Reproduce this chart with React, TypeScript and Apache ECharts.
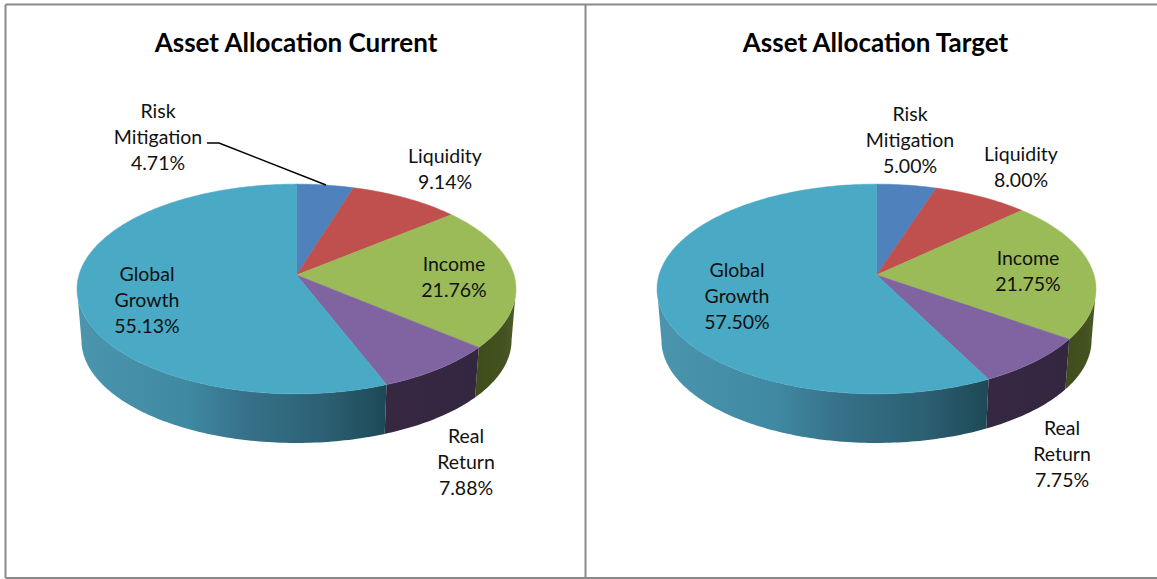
import React, { useEffect, useRef } from "react";
import * as echarts from "echarts";

const categories = ["Risk\nMitigation", "Liquidity", "Income", "Real\nReturn", "Global\nGrowth"];
const currentValues = [4.71, 9.14, 21.76, 7.88, 55.13];
const targetValues = [5.0, 8.0, 21.75, 7.75, 57.5];
const titles = ["Asset Allocation Current", "Asset Allocation Target"];

const topColors = ["#4f81bd", "#c0504d", "#9bbb59", "#8064a2", "#4aa9c4"];
const wallStops: [number, string][][] = [
  [[0, "#3a5f8c"], [1, "#2a4668"]],
  [[0, "#8c3a38"], [1, "#682a28"]],
  [[0, "#3f4c1b"], [0.7, "#435220"], [1, "#4d5d24"]],
  [[0, "#372842"], [1, "#33263f"]],
  [[0, "#4b95ae"], [0.35, "#3f8aa2"], [0.55, "#367189"], [0.8, "#2c6073"], [1, "#1d4956"]],
];

const pieLayouts = [
  {
    cx: 296.5,
    title: [296, 42],
    labels: [[158, 136], [445, 168], [454, 276], [466, 461], [147, 299]],
    leader: [[207, 143], [219, 143], [326, 185]],
  },
  {
    cx: 876.5,
    title: [875.5, 42],
    labels: [[910, 139], [1021, 166], [1028, 270], [1062, 453], [737, 295]],
    leader: null,
  },
];

// Perspective projection of the pie's circular top and bottom faces
const Y_TOP = 275;
const Y_BOTTOM = 326.5;
const WIDTH = 217.5;
const HEIGHT = 103;
const PERSP = 0.1333;
const BOTTOM_SCALE = 0.98;
// Angles at which the projected rim turns from the front of the pie to its back
const RIM_RIGHT = (Math.acos(-PERSP) * 180) / Math.PI;
const RIM_LEFT = 360 - RIM_RIGHT;

function project(cx: number, deg: number, bottom: boolean): number[] {
  const a = (deg * Math.PI) / 180;
  const u = Math.sin(a);
  const v = -Math.cos(a);
  const d = 1 - PERSP * v;
  const s = bottom ? BOTTOM_SCALE : 1;
  return [cx + (s * WIDTH * u) / d, (bottom ? Y_BOTTOM : Y_TOP) + (s * HEIGHT * v) / d];
}

function arc(cx: number, from: number, to: number, bottom: boolean): number[][] {
  const n = Math.max(2, Math.ceil(to - from));
  const pts: number[][] = [];
  for (let i = 0; i <= n; i++) pts.push(project(cx, from + ((to - from) * i) / n, bottom));
  return pts;
}

function sliceAngles(values: number[], idx: number): [number, number] {
  const total = values.reduce((a, b) => a + b, 0);
  const before = values.slice(0, idx).reduce((a, b) => a + b, 0);
  return [(before / total) * 360, ((before + values[idx]) / total) * 360];
}

function pieSeries(values: number[], p: number) {
  const layout = pieLayouts[p];
  const data = values.map((v, i) => ({ name: categories[i], value: [i, v] }));
  const walls = {
    type: "custom",
    coordinateSystem: "none",
    silent: true,
    z: 2,
    data,
    renderItem: (_: any, api: any) => {
      const i = api.value(0) as number;
      const [s, e] = sliceAngles(values, i);
      const a = Math.max(s, RIM_RIGHT);
      const b = Math.min(e, RIM_LEFT);
      if (b <= a) return null;
      const pts = [...arc(layout.cx, a, b, false), ...arc(layout.cx, a, b, true).reverse()];
      const stops = wallStops[i].map(([offset, color]) => ({ offset, color }));
      return {
        type: "polygon",
        shape: { points: pts },
        style: { fill: new echarts.graphic.LinearGradient(0, 0, 1, 0, stops) },
      };
    },
  };
  const tops = {
    type: "custom",
    coordinateSystem: "none",
    silent: true,
    z: 3,
    data,
    renderItem: (_: any, api: any) => {
      const i = api.value(0) as number;
      const [a, b] = sliceAngles(values, i);
      const pts = [[layout.cx, Y_TOP], ...arc(layout.cx, a, b, false)];
      return {
        type: "polygon",
        shape: { points: pts },
        style: { fill: topColors[i], stroke: topColors[i], lineWidth: 0.5 },
      };
    },
  };
  const labels = {
    type: "custom",
    coordinateSystem: "none",
    silent: true,
    z: 5,
    data,
    renderItem: (_: any, api: any) => {
      const i = api.value(0) as number;
      const v = api.value(1) as number;
      const [x, y] = layout.labels[i];
      return {
        type: "text",
        x,
        y,
        style: {
          text: `${categories[i]}\n${v.toFixed(2)}%`,
          x: 0,
          y: 0,
          align: "center",
          verticalAlign: "middle",
          fontFamily: "Lato",
          fontSize: 19.5,
          lineHeight: 26,
          fill: "#111111",
        },
      };
    },
  };
  return [walls, tops, labels];
}

function App() {
  const ref = useRef<HTMLDivElement>(null);
  useEffect(() => {
    const chart = echarts.init(ref.current!, null, { renderer: "svg" });
    const lineStyle = { stroke: "#8a8a8a", lineWidth: 2 };
    const frame = [
      [5.5, 4.5, 1157, 4.5],
      [5.5, 4.5, 5.5, 578],
      [585.5, 4.5, 585.5, 578],
      [5.5, 578, 1157, 578],
    ].map(([x1, y1, x2, y2]) => ({
      type: "line",
      shape: { x1, y1, x2, y2 },
      style: lineStyle,
      z: 1,
    }));
    const titleTexts = titles.map((text, i) => ({
      type: "text",
      x: pieLayouts[i].title[0],
      y: pieLayouts[i].title[1],
      style: {
        text,
        align: "center",
        verticalAlign: "middle",
        fontFamily: "Lato",
        fontWeight: "bold",
        fontSize: 26,
        fill: "#000000",
      },
      z: 6,
    }));
    chart.setOption({
      animation: false,
      backgroundColor: "#ffffff",
      graphic: [
        ...frame,
        ...titleTexts,
        {
          type: "polyline",
          shape: { points: pieLayouts[0].leader },
          style: { stroke: "#000000", lineWidth: 1.5, fill: "none" },
          z: 6,
        },
      ],
      series: [...pieSeries(currentValues, 0), ...pieSeries(targetValues, 1)],
    });
    return () => chart.dispose();
  }, []);
  return <div ref={ref} style={{ position: "fixed", left: 0, top: 0, width: 1157, height: 579 }} />;
}

export default App;
